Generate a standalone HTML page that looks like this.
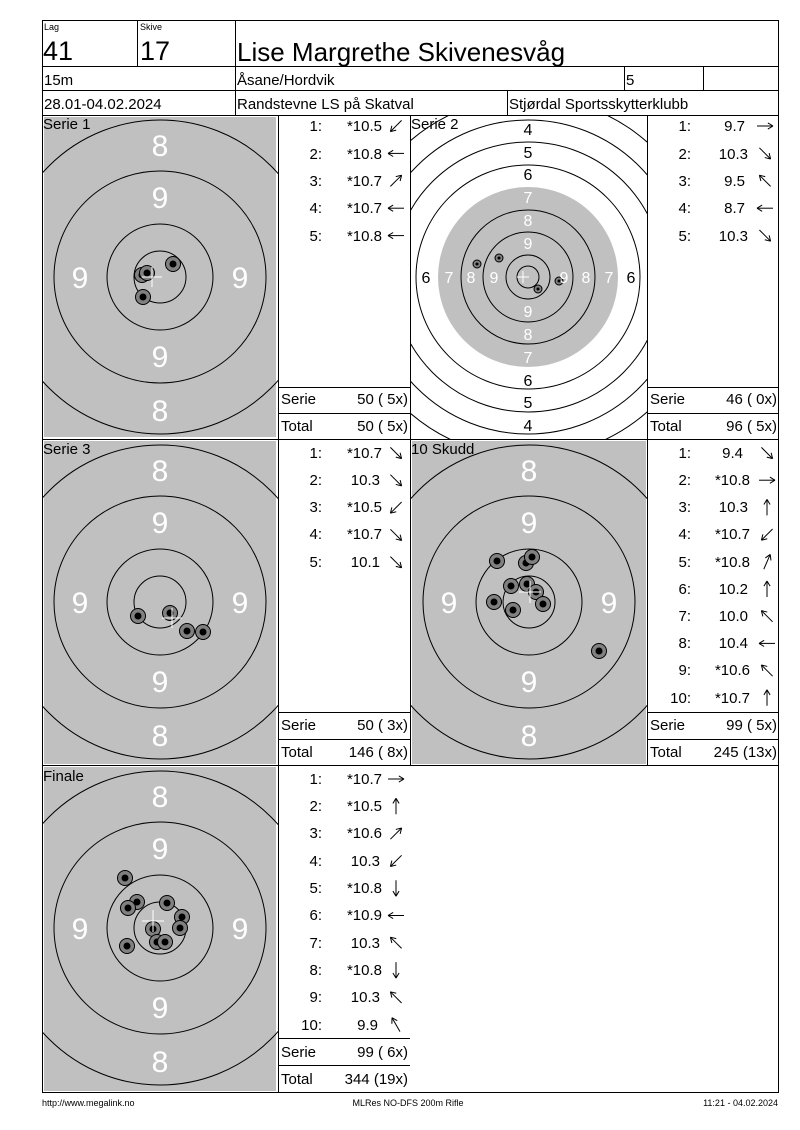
<!DOCTYPE html>
<html><head><meta charset="utf-8"><style>
html,body{margin:0;padding:0;background:#fff;}
svg{display:block;font-family:"Liberation Sans",Arial,sans-serif;}
.t{font-size:15px;fill:#000;}
.w{fill:#fff;}
</style></head><body>
<svg id="s" width="800" height="1130" viewBox="0 0 800 1130" xmlns="http://www.w3.org/2000/svg">
<defs>
<clipPath id="c1"><rect x="43" y="116" width="235" height="323"/></clipPath>
<clipPath id="c2"><rect x="411" y="116" width="236" height="323"/></clipPath>
<clipPath id="c3"><rect x="43" y="440" width="235" height="325"/></clipPath>
<clipPath id="c4"><rect x="411" y="440" width="236" height="325"/></clipPath>
<clipPath id="c5"><rect x="43" y="766" width="235" height="327"/></clipPath>
</defs>
<rect x="44" y="117" width="232" height="320" fill="#c0c0c0"/>
<rect x="44" y="441" width="232" height="323" fill="#c0c0c0"/>
<rect x="412" y="441" width="234" height="323" fill="#c0c0c0"/>
<rect x="44" y="767" width="232" height="324" fill="#c0c0c0"/>
<g id="shapes"></g>
<g id="grid" stroke="#000" stroke-width="1" fill="none">
<rect x="42.5" y="20.5" width="736" height="1072"/>
<line x1="42" y1="66.5" x2="779" y2="66.5"/>
<line x1="42" y1="90.5" x2="779" y2="90.5"/>
<line x1="42" y1="115.5" x2="779" y2="115.5"/>
<line x1="137.5" y1="20" x2="137.5" y2="66"/>
<line x1="235.5" y1="20" x2="235.5" y2="115"/>
<line x1="624.5" y1="66" x2="624.5" y2="90"/>
<line x1="703.5" y1="66" x2="703.5" y2="90"/>
<line x1="507.5" y1="90" x2="507.5" y2="115"/>
<line x1="42" y1="439.5" x2="779" y2="439.5"/>
<line x1="42" y1="765.5" x2="779" y2="765.5"/>
<line x1="278.5" y1="115" x2="278.5" y2="1093"/>
<line x1="410.5" y1="115" x2="410.5" y2="765"/>
<line x1="647.5" y1="115" x2="647.5" y2="765"/>
<line x1="278" y1="387.5" x2="410" y2="387.5"/>
<line x1="278" y1="413.5" x2="410" y2="413.5"/>
<line x1="647" y1="387.5" x2="779" y2="387.5"/>
<line x1="647" y1="413.5" x2="779" y2="413.5"/>
<line x1="278" y1="712.5" x2="410" y2="712.5"/>
<line x1="278" y1="739.5" x2="410" y2="739.5"/>
<line x1="647" y1="712.5" x2="779" y2="712.5"/>
<line x1="647" y1="739.5" x2="779" y2="739.5"/>
<line x1="278" y1="1038.5" x2="410" y2="1038.5"/>
<line x1="278" y1="1065.5" x2="410" y2="1065.5"/>
</g>
<!-- header -->
<text x="44" y="30" font-size="9">Lag</text>
<text x="140" y="30" font-size="9">Skive</text>
<text x="43" y="60" font-size="27">41</text>
<text x="140" y="60" font-size="27">17</text>
<text x="237" y="61" font-size="26">Lise Margrethe Skivenesvåg</text>
<text x="44" y="85" font-size="15">15m</text>
<text x="237" y="85" font-size="15">Åsane/Hordvik</text>
<text x="626" y="85" font-size="15">5</text>
<text x="44" y="109" font-size="15">28.01-04.02.2024</text>
<text x="237" y="109" font-size="15">Randstevne LS på Skatval</text>
<text x="509" y="109" font-size="15">Stjørdal Sportsskytterklubb</text>
<!-- target labels -->
<g font-size="30" class="w" text-anchor="middle" fill="#fff">
<text x="160" y="156" fill="#fff">8</text><text x="160" y="208" fill="#fff">9</text><text x="160" y="367" fill="#fff">9</text><text x="160" y="421" fill="#fff">8</text><text x="80" y="288" fill="#fff">9</text><text x="240" y="288" fill="#fff">9</text>
<text x="160" y="481" fill="#fff">8</text><text x="160" y="533" fill="#fff">9</text><text x="160" y="692" fill="#fff">9</text><text x="160" y="746" fill="#fff">8</text><text x="80" y="613" fill="#fff">9</text><text x="240" y="613" fill="#fff">9</text>
<text x="529" y="481" fill="#fff">8</text><text x="529" y="533" fill="#fff">9</text><text x="529" y="692" fill="#fff">9</text><text x="529" y="746" fill="#fff">8</text><text x="449" y="613" fill="#fff">9</text><text x="609" y="613" fill="#fff">9</text>
<text x="160" y="807" fill="#fff">8</text><text x="160" y="859" fill="#fff">9</text><text x="160" y="1018" fill="#fff">9</text><text x="160" y="1072" fill="#fff">8</text><text x="80" y="939" fill="#fff">9</text><text x="240" y="939" fill="#fff">9</text>
</g>
<g font-size="16" text-anchor="middle">
<text x="528" y="135">4</text><text x="528" y="158">5</text><text x="528" y="180">6</text>
<text x="528" y="203" fill="#fff">7</text><text x="528" y="226" fill="#fff">8</text><text x="528" y="249" fill="#fff">9</text>
<text x="528" y="317" fill="#fff">9</text><text x="528" y="340" fill="#fff">8</text><text x="528" y="363" fill="#fff">7</text>
<text x="528" y="386">6</text><text x="528" y="408">5</text><text x="528" y="431">4</text>
<text x="426" y="283">6</text><text x="449" y="283" fill="#fff">7</text><text x="471" y="283" fill="#fff">8</text><text x="494" y="283" fill="#fff">9</text>
<text x="564" y="283" fill="#fff">9</text><text x="586" y="283" fill="#fff">8</text><text x="609" y="283" fill="#fff">7</text><text x="631" y="283">6</text>
</g>
<g font-size="15">
<text x="43" y="129">Serie 1</text><text x="411" y="129">Serie 2</text>
<text x="43" y="454">Serie 3</text><text x="411" y="454">10 Skudd</text>
<text x="43" y="781">Finale</text>
</g>
<!-- tables -->
<g class="t" font-size="15">
<g text-anchor="end">
<text x="322" y="131">1:</text><text x="382" y="131">*10.5</text>
<text x="322" y="159">2:</text><text x="382" y="159">*10.8</text>
<text x="322" y="186">3:</text><text x="382" y="186">*10.7</text>
<text x="322" y="213">4:</text><text x="382" y="213">*10.7</text>
<text x="322" y="241">5:</text><text x="382" y="241">*10.8</text>
<text x="408" y="404">50 ( 5x)</text><text x="408" y="431">50 ( 5x)</text>
<text x="691" y="131">1:</text><text x="745" y="131">9.7</text>
<text x="691" y="159">2:</text><text x="748" y="159">10.3</text>
<text x="691" y="186">3:</text><text x="745" y="186">9.5</text>
<text x="691" y="213">4:</text><text x="745" y="213">8.7</text>
<text x="691" y="241">5:</text><text x="748" y="241">10.3</text>
<text x="777" y="404">46 ( 0x)</text><text x="777" y="431">96 ( 5x)</text>
<text x="322" y="458">1:</text><text x="382" y="458">*10.7</text>
<text x="322" y="485">2:</text><text x="380" y="485">10.3</text>
<text x="322" y="512">3:</text><text x="382" y="512">*10.5</text>
<text x="322" y="539">4:</text><text x="382" y="539">*10.7</text>
<text x="322" y="567">5:</text><text x="380" y="567">10.1</text>
<text x="408" y="730">50 ( 3x)</text><text x="408" y="757">146 ( 8x)</text>
<text x="691" y="458">1:</text><text x="743" y="458">9.4</text>
<text x="691" y="485">2:</text><text x="750" y="485">*10.8</text>
<text x="691" y="512">3:</text><text x="748" y="512">10.3</text>
<text x="691" y="539">4:</text><text x="750" y="539">*10.7</text>
<text x="691" y="567">5:</text><text x="750" y="567">*10.8</text>
<text x="691" y="594">6:</text><text x="748" y="594">10.2</text>
<text x="691" y="621">7:</text><text x="748" y="621">10.0</text>
<text x="691" y="648">8:</text><text x="748" y="648">10.4</text>
<text x="691" y="675">9:</text><text x="750" y="675">*10.6</text>
<text x="691" y="703">10:</text><text x="750" y="703">*10.7</text>
<text x="777" y="730">99 ( 5x)</text><text x="777" y="757">245 (13x)</text>
<text x="322" y="784">1:</text><text x="382" y="784">*10.7</text>
<text x="322" y="811">2:</text><text x="382" y="811">*10.5</text>
<text x="322" y="838">3:</text><text x="382" y="838">*10.6</text>
<text x="322" y="866">4:</text><text x="380" y="866">10.3</text>
<text x="322" y="893">5:</text><text x="382" y="893">*10.8</text>
<text x="322" y="920">6:</text><text x="382" y="920">*10.9</text>
<text x="322" y="948">7:</text><text x="380" y="948">10.3</text>
<text x="322" y="975">8:</text><text x="382" y="975">*10.8</text>
<text x="322" y="1002">9:</text><text x="380" y="1002">10.3</text>
<text x="322" y="1030">10:</text><text x="378" y="1030">9.9</text>
<text x="408" y="1057">99 ( 6x)</text><text x="408" y="1084">344 (19x)</text>
</g>
<text x="281" y="404">Serie</text><text x="281" y="431">Total</text>
<text x="650" y="404">Serie</text><text x="650" y="431">Total</text>
<text x="281" y="730">Serie</text><text x="281" y="757">Total</text>
<text x="650" y="730">Serie</text><text x="650" y="757">Total</text>
<text x="281" y="1057">Serie</text><text x="281" y="1084">Total</text>
</g>
<g font-size="9">
<text x="42" y="1106">http://www.megalink.no</text>
<text x="408" y="1106" text-anchor="middle">MLRes NO-DFS 200m Rifle</text>
<text x="778" y="1106" text-anchor="end">11:21 - 04.02.2024</text>
</g>
</svg>
<script>
var NS="http://www.w3.org/2000/svg",G=document.getElementById("shapes");
function el(n,a,p){var e=document.createElementNS(NS,n);for(var k in a)e.setAttribute(k,a[k]);(p||G).appendChild(e);return e;}
function rings(cx,cy,rs,clip){var g=el("g",{"clip-path":"url(#"+clip+")"});rs.forEach(function(r){el("circle",{cx:cx,cy:cy,r:r,fill:"none",stroke:"#000","stroke-width":1},g);});}
rings(160,277,[26,53,106,157,210],"c1");
rings(160,602,[26,53,106,157,210],"c3");
rings(529,602,[26,53,106,157,210],"c4");
rings(160,928,[26,53,106,157,210],"c5");
el("circle",{cx:528,cy:277,r:90,fill:"#c0c0c0"});
rings(528,277,[11,22,45,67,112,135,157,180,202],"c2");
function shots(a,R,r){a.forEach(function(p){el("circle",{cx:p[0],cy:p[1],r:R,fill:"#808080",stroke:"#000","stroke-width":1});el("circle",{cx:p[0],cy:p[1],r:r,fill:"#000"});});}
function cross(x,y,s){el("line",{x1:x-s,y1:y,x2:x+s,y2:y,stroke:"#fff","stroke-width":1});el("line",{x1:x,y1:y-s,x2:x,y2:y+s,stroke:"#fff","stroke-width":1});}
shots([[173,264],[142,275],[147,273],[143,297]],7.5,3.5);cross(152,277,10);
shots([[477,264],[499,258],[538,289],[559,281]],4,1.5);cross(523,277,6);
shots([[138,616],[170,613],[187,631],[203,632]],7.5,3.5);cross(172,618,10);
shots([[497,561],[526,563],[532,557],[511,586],[527,584],[536,592],[543,604],[494,602],[513,610],[599,651]],7.5,3.5);cross(530,592,11);
shots([[125,878],[137,902],[128,908],[167,903],[182,917],[180,928],[153,929],[157,942],[165,942],[127,946]],7.5,3.5);cross(153,921,11);
var D={r:[1,0],l:[-1,0],u:[0,-1],d:[0,1],ur:[.7,-.7],ul:[-.7,-.7],dr:[.7,.7],dl:[-.7,.7],uur:[.4,-.92],dld:[-.3,.95],uul:[-.5,-.87]};
function arrow(cx,cy,d){var v=D[d],L=8,x1=cx-v[0]*L,y1=cy-v[1]*L,x2=cx+v[0]*L,y2=cy+v[1]*L;el("line",{x1:x1,y1:y1,x2:x2,y2:y2,stroke:"#000","stroke-width":1});
var a=Math.atan2(v[1],v[0]);[2.6,-2.6].forEach(function(o){el("line",{x1:x2,y1:y2,x2:x2+6*Math.cos(a+o),y2:y2+6*Math.sin(a+o),stroke:"#000","stroke-width":1});});}
function col(x,y0,step,ds){ds.forEach(function(d,i){arrow(x,y0+i*step,d);});}
col(396,126,27.4,["dl","l","ur","l","l"]);
col(765,126,27.4,["r","dr","ul","l","dr"]);
col(396,453,27.3,["dr","dr","dl","dr","dr"]);
col(767,453,27.2,["dr","r","u","dl","uur","u","ul","l","ul","u"]);
col(396,779,27.3,["r","u","ur","dl","d","l","ul","d","ul","uul"]);
</script>
</body></html>
